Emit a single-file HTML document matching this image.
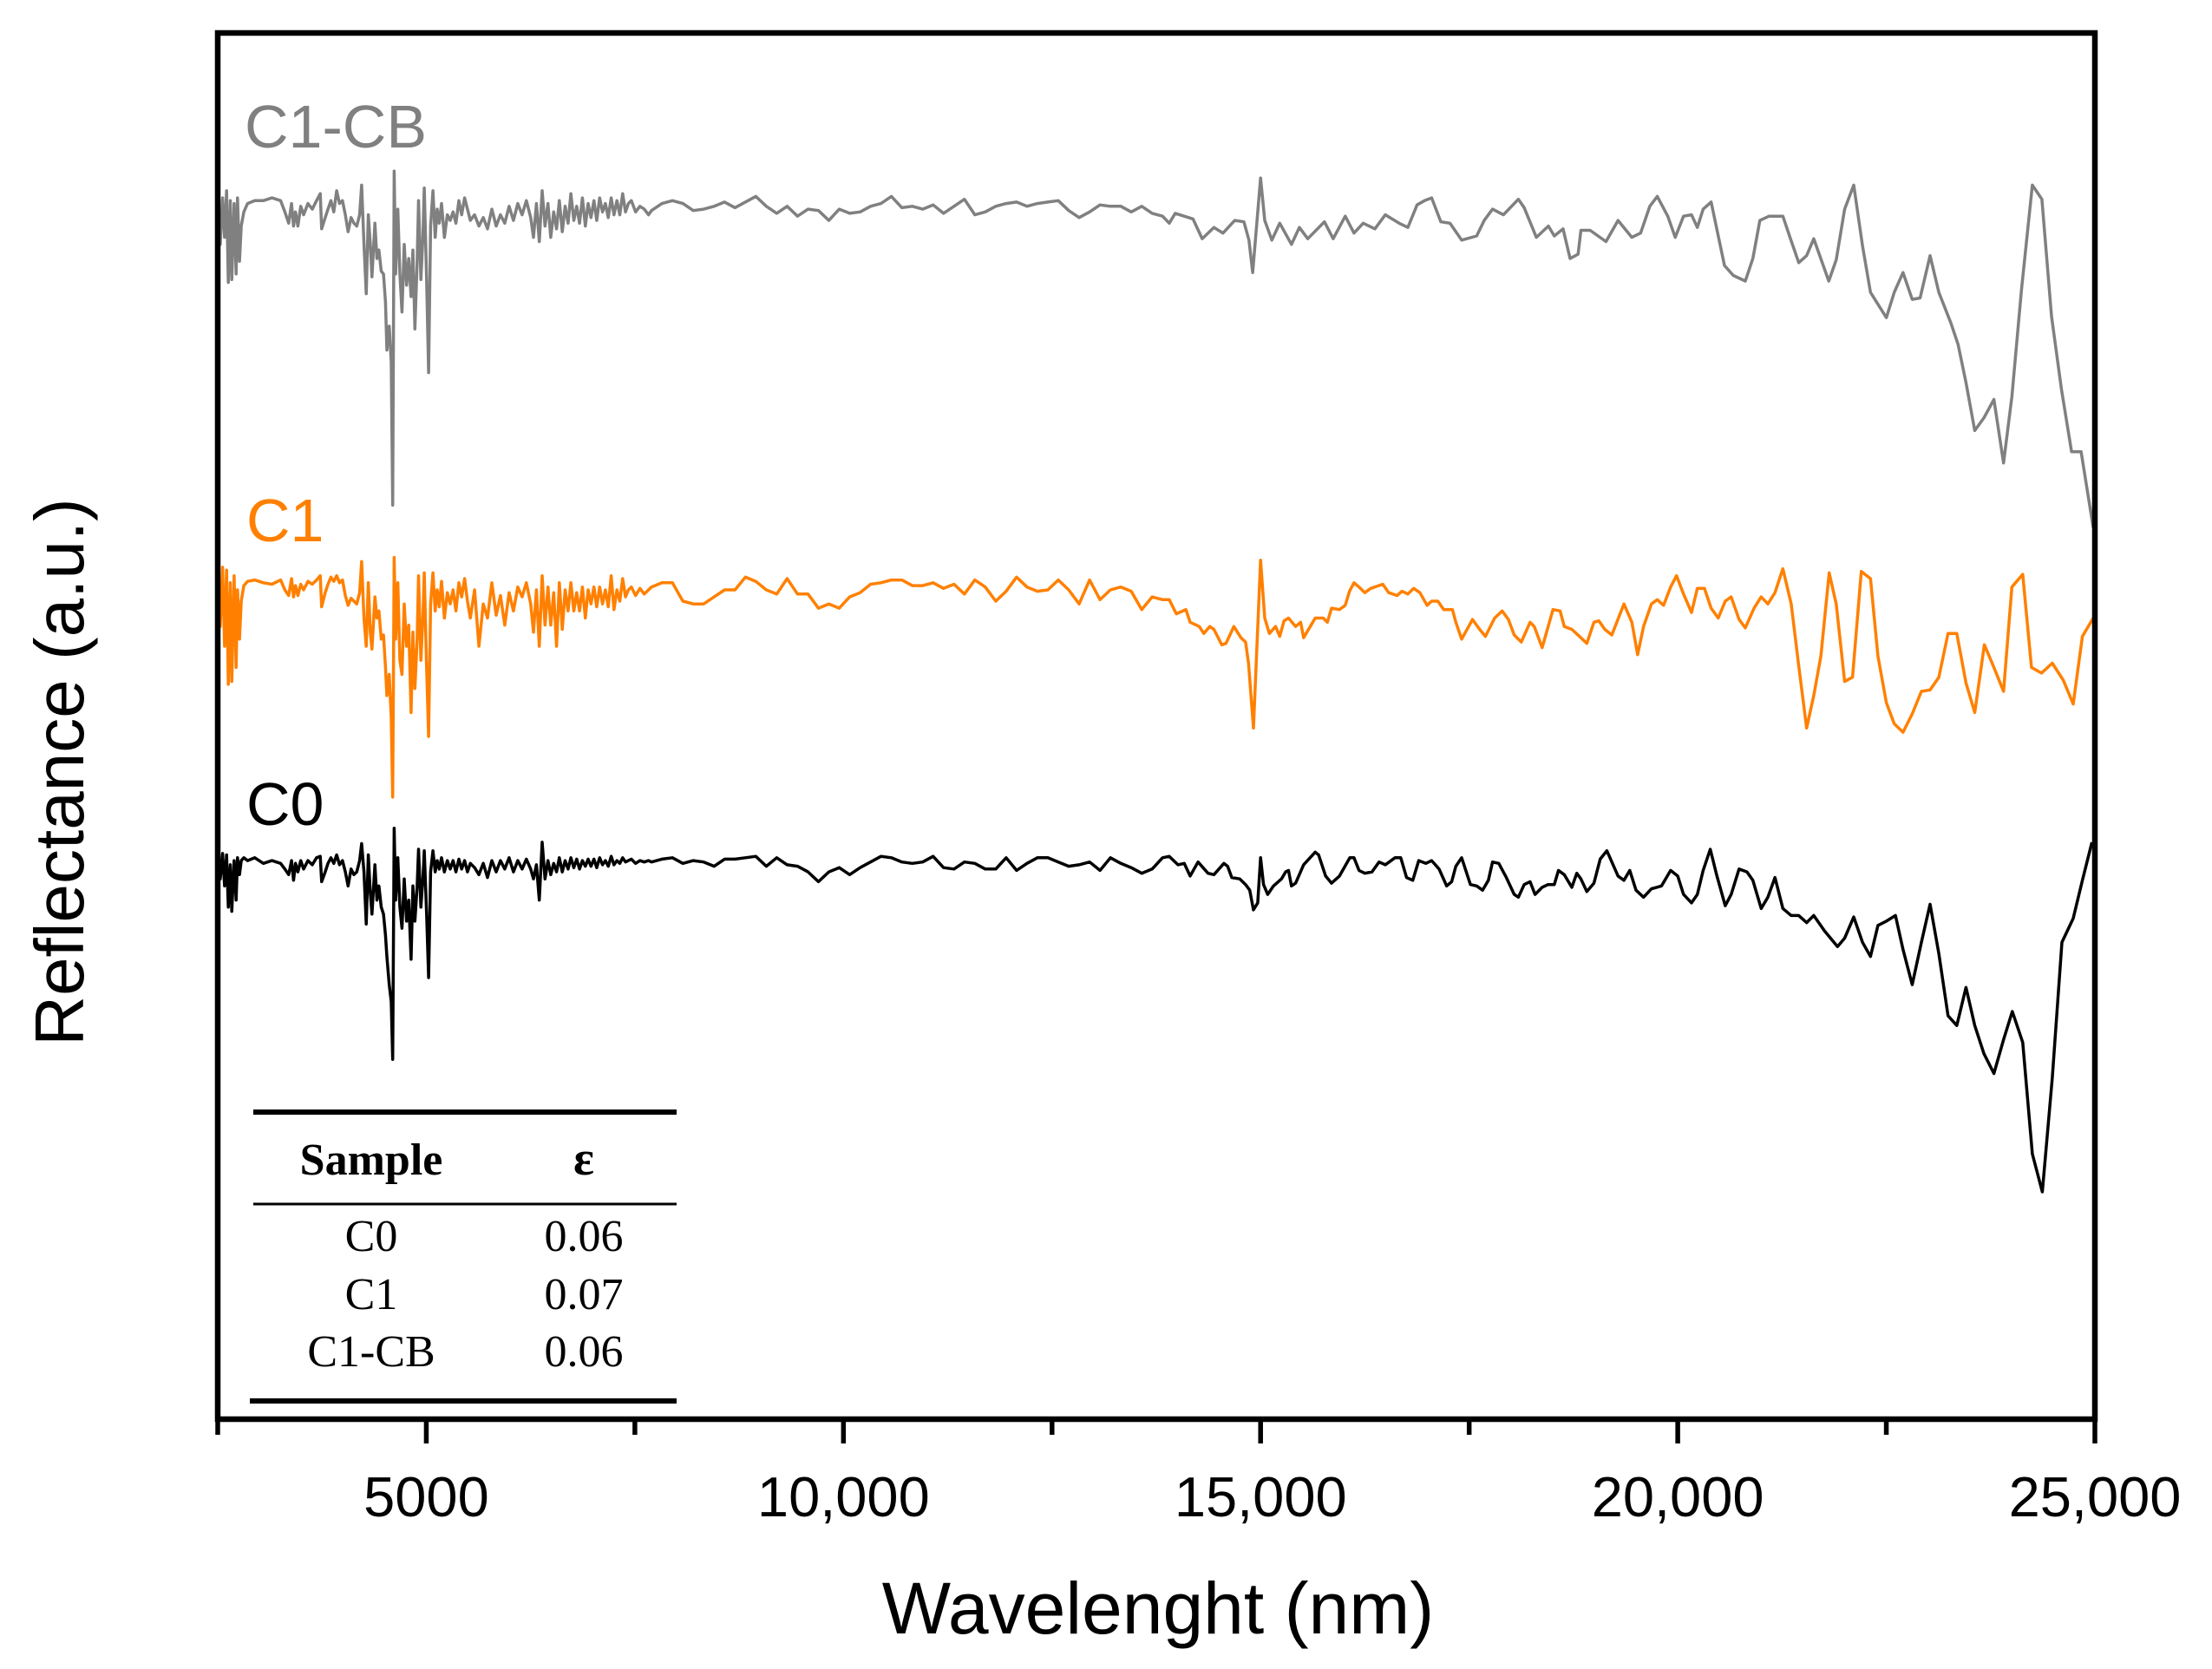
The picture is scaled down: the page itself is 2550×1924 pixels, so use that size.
<!DOCTYPE html>
<html>
<head>
<meta charset="utf-8">
<style>
  html, body { margin: 0; padding: 0; background: #ffffff; }
  svg { display: block; }
  text { font-family: "Liberation Sans", Arial, sans-serif; }
  .serif { font-family: "Liberation Serif", "DejaVu Serif", serif; }
</style>
</head>
<body>
<svg id="chart" width="2550" height="1924" viewBox="0 0 2550 1924" xmlns="http://www.w3.org/2000/svg">
  <rect x="0" y="0" width="2550" height="1924" fill="#ffffff"/>
  <g id="series-layer"></g>
  <rect x="251" y="38" width="2164" height="1598" fill="none" stroke="#000" stroke-width="6.5"/>
  <g id="ticks-layer"></g>

  <text x="282" y="170" font-size="70" fill="#808080">C1-CB</text>
  <text x="284" y="624" font-size="70" fill="#ff8000">C1</text>
  <text x="284" y="951" font-size="70" fill="#000000">C0</text>

  <text x="1335" y="1883" font-size="84" text-anchor="middle" fill="#000">Wavelenght (nm)</text>
  <text x="0" y="0" font-size="80" text-anchor="middle" fill="#000" transform="translate(96,890) rotate(-90)">Reflectance (a.u.)</text>

  <g>
    <line x1="292" y1="1282" x2="780" y2="1282" stroke="#000" stroke-width="6"/>
    <text class="serif" x="428" y="1354" font-size="52" font-weight="bold" text-anchor="middle">Sample</text>
    <text class="serif" x="673" y="1354" font-size="56" font-weight="bold" text-anchor="middle">ε</text>
    <line x1="292" y1="1388" x2="780" y2="1388" stroke="#000" stroke-width="3"/>
    <text class="serif" x="428" y="1442" font-size="52" text-anchor="middle">C0</text>
    <text class="serif" x="673" y="1442" font-size="52" text-anchor="middle">0.06</text>
    <text class="serif" x="428" y="1509" font-size="52" text-anchor="middle">C1</text>
    <text class="serif" x="673" y="1509" font-size="52" text-anchor="middle">0.07</text>
    <text class="serif" x="428" y="1575" font-size="52" text-anchor="middle">C1-CB</text>
    <text class="serif" x="673" y="1575" font-size="52" text-anchor="middle">0.06</text>
    <line x1="288" y1="1615" x2="780" y2="1615" stroke="#000" stroke-width="6"/>
  </g>
</svg>
<script>
// ---------- data (wavelength in nm, reflectance in a.u.) ----------
const wlLeft = [2513,2530,2558,2582,2606,2627,2651,2668,2696,2720,2737,2761,2782,2813,2858,2944,3047,3150,3254,3305,3350,3385,3409,3433,3461,3495,3529,3581,3633,3684,3729,3746,3788,3822,3857,3891,3926,3960,3995,4029,4063,4098,4132,4167,4201,4225,4253,4280,4305,4329,4349,4384,4408,4432,4460,4487,4511,4528,4556,4580,4597,4615,4632,4659,4683,4708,4735,4763,4790,4818,4839,4863,4890,4907,4935,4959,4976,5004,5028,5052,5080,5107,5131,5155,5183,5217,5252,5286,5321,5355,5390,5424,5459,5493,5528,5579,5631,5683,5734,5786,5838,5889,5941,5993,6044,6096,6148,6199,6251,6285,6320,6354,6389,6423,6458,6492,6527,6561,6595,6630,6664,6699,6733,6768,6802,6837,6871,6906,6940,6974,7009,7043,7078,7112,7147,7181,7216,7250,7285,7319,7354,7388,7422,7457,7508,7560,7612,7663];
const wlMid = [7700,7825,7950,8075,8200,8325,8450,8575,8700,8825,8950,9075,9200,9325,9450,9575,9700,9825,9950,10075,10200,10325,10450,10575,10700,10825,10950,11075,11200,11325,11450,11575,11700,11825,11950,12075,12200,12325,12450,12575,12700,12825,12950,13075,13200,13325,13450,13575,13700,13825];

const c1cbLeft = [86.0,83.5,86.8,84.0,87.3,80.8,86.6,81.0,86.4,81.4,86.8,82.3,84.8,85.8,86.4,86.6,86.6,86.8,86.6,85.8,85.0,86.4,84.8,85.8,84.8,86.2,85.6,86.4,86.0,86.6,87.1,84.6,85.4,86.0,86.6,85.8,87.3,86.4,86.6,85.6,84.4,85.4,85.0,84.8,85.6,87.7,83.5,80.0,85.6,83.5,81.2,85.0,82.5,83.1,81.6,81.4,79.4,76.0,77.7,75.2,65.0,88.7,81.4,86.0,81.4,78.7,83.5,80.6,82.5,79.8,83.1,77.5,82.3,86.6,81.0,84.0,87.5,81.0,74.4,84.8,87.3,84.0,86.0,85.0,86.4,84.0,85.6,85.2,85.8,85.0,86.6,85.6,86.8,86.0,85.2,85.6,84.8,85.4,84.6,86.0,84.8,85.6,85.0,86.2,85.2,86.4,85.6,86.6,85.4,84.0,86.4,83.7,87.3,84.8,86.4,84.0,85.8,84.6,86.6,84.4,86.2,85.0,87.1,85.2,86.2,85.0,86.8,84.8,86.4,85.4,86.6,85.2,86.8,85.8,86.4,85.4,86.8,85.6,86.6,85.6,87.1,85.8,86.4,86.6,85.8,86.2,86.0,85.6];
const c1Left = [59.8,56.4,60.6,55.0,60.4,52.3,59.5,52.5,60.0,53.5,59.0,55.5,58.2,59.3,59.6,59.7,59.5,59.4,59.7,59.0,58.6,59.8,58.5,59.3,58.6,59.4,59.0,59.6,59.4,59.7,60.0,57.8,58.8,59.4,59.9,59.6,60.0,59.5,59.7,58.6,57.9,58.4,58.2,58.0,58.8,61.0,57.0,55.0,59.5,56.0,54.8,58.5,57.0,57.5,55.5,55.8,53.5,51.5,53.0,50.0,44.3,61.3,55.5,59.5,54.0,53.0,58.0,55.0,56.5,50.3,56.0,52.0,55.5,60.0,54.0,57.0,60.2,53.5,48.6,58.0,60.2,57.5,59.0,57.8,59.6,57.0,58.8,58.0,59.0,57.5,59.5,58.5,59.8,58.2,57.0,59.0,55.0,58.0,57.0,59.5,57.2,58.6,56.5,58.8,57.5,59.2,58.5,59.5,58.0,56.0,59.0,55.0,60.0,56.5,59.2,56.5,58.8,55.0,59.5,56.2,59.0,57.5,59.5,57.5,58.8,57.5,59.2,57.0,59.0,58.0,59.2,57.8,59.2,58.0,59.0,57.8,60.0,57.6,59.0,58.2,59.8,58.5,59.0,59.2,58.6,59.1,58.7,59.0];
const c0Left = [40.0,38.5,40.3,38.0,40.2,36.5,39.5,36.2,39.8,37.0,40.0,38.8,39.8,40.0,39.8,40.0,39.6,39.8,39.6,39.2,38.8,39.8,38.4,39.6,39.0,39.8,39.2,39.8,39.5,40.0,40.1,38.3,39.0,39.6,40.0,39.6,40.2,39.5,39.8,39.0,38.0,39.2,38.8,39.0,39.8,41.0,39.0,35.3,40.2,37.5,36.0,39.5,37.0,38.0,36.5,36.0,34.5,33.0,31.0,29.8,25.7,42.1,37.0,40.0,36.5,35.0,38.5,35.5,37.0,32.8,38.0,35.5,38.0,40.6,36.5,38.5,40.5,36.0,31.5,39.0,40.5,39.0,39.8,39.2,40.0,39.0,39.8,39.2,39.8,39.0,39.9,39.2,39.8,39.0,39.6,39.3,38.8,39.6,38.6,39.8,39.0,39.8,39.2,40.0,39.0,39.8,39.2,39.9,39.2,38.5,39.5,37.0,41.1,38.5,39.8,38.8,39.6,39.0,40.0,39.0,39.8,39.2,40.0,39.3,39.9,39.2,39.8,39.4,39.9,39.4,39.9,39.3,40.0,39.5,39.8,39.4,40.1,39.5,39.8,39.6,40.0,39.7,39.8,39.9,39.6,39.8,39.7,39.8];

const c1cbMid = [85.9,86.4,86.6,86.4,85.9,86.0,86.2,86.5,86.1,86.5,86.9,86.2,85.7,86.2,85.5,86.0,85.9,85.2,86.0,85.7,85.8,86.2,86.4,86.9,86.1,86.2,86.0,86.3,85.7,86.2,86.7,85.6,85.8,86.2,86.4,86.5,86.2,86.4,86.5,86.6,85.9,85.4,85.8,86.3,86.2,86.2,85.8,86.2,85.7,85.5];
const c1Mid = [59.2,59.5,59.5,58.2,58.0,58.0,58.5,59.0,59.0,59.9,59.6,59.0,58.7,59.8,58.7,58.7,57.7,58.0,57.7,58.5,58.8,59.4,59.5,59.7,59.7,59.3,59.3,59.5,59.1,59.4,58.7,59.7,59.2,58.2,58.9,59.9,59.2,58.9,59.0,59.7,59.0,58.0,59.7,58.3,59.0,59.2,58.9,57.6,58.5,58.3];
const c0Mid = [39.7,39.9,40.0,39.6,39.8,39.7,39.4,39.9,39.9,40.0,40.1,39.4,40.0,39.5,39.4,39.0,38.3,39.0,39.3,38.8,39.3,39.7,40.1,40.0,39.7,39.6,39.7,40.1,39.3,39.2,39.7,39.6,39.2,39.2,40.0,39.1,39.6,40.0,40.0,39.7,39.4,39.5,39.7,39.1,40.0,39.6,39.3,38.9,39.2,40.0];

const wlRightC1cb = [13905,13977,14190,14300,14440,14550,14690,14800,14860,14905,15000,15050,15135,15230,15370,15465,15565,15765,15870,16015,16120,16230,16370,16495,16660,16765,16875,16965,17050,17160,17270,17410,17590,17680,17780,17910,18090,18160,18305,18450,18520,18625,18710,18805,18840,18950,19140,19285,19450,19555,19665,19755,19880,19970,20070,20165,20235,20305,20400,20560,20665,20810,20900,20985,21095,21260,21345,21450,21545,21630,21810,21900,22000,22110,22215,22310,22500,22595,22700,22810,22905,23025,23130,23275,23360,23455,23560,23670,23790,23905,24005,24120,24250,24365,24480,24600,24720,24835,24980];
const c1cbRight = [85.0,85.7,85.3,83.9,84.7,84.3,85.2,85.1,83.8,81.5,88.2,85.2,83.8,85.0,83.5,84.7,83.9,85.1,83.9,85.5,84.3,85.0,84.6,85.6,85.0,84.7,86.3,86.6,86.8,85.1,85.0,83.8,84.1,85.2,86.0,85.6,86.7,86.1,84.0,84.8,84.1,84.6,82.5,82.8,84.5,84.5,83.7,85.2,84.0,84.3,86.2,86.9,85.5,84.0,85.5,85.6,84.7,86.0,86.5,82.0,81.3,80.9,82.5,85.2,85.5,85.5,84.0,82.2,82.7,83.9,80.9,82.4,86.0,87.7,83.4,80.1,78.3,80.1,81.5,79.6,79.7,82.7,80.1,77.9,76.4,73.7,70.3,71.2,72.5,68.0,72.7,80.3,87.7,86.7,78.4,73.2,68.8,68.8,63.4];

const wlRightC1 = [13905,13990,14105,14155,14265,14320,14390,14440,14535,14585,14680,14765,14820,14855,14915,15000,15050,15105,15180,15230,15280,15335,15420,15480,15515,15655,15750,15800,15850,15945,16015,16065,16120,16180,16250,16320,16465,16535,16635,16695,16765,16835,16910,16995,17050,17125,17195,17300,17340,17410,17540,17625,17695,17805,17895,17970,18040,18125,18230,18280,18375,18505,18590,18640,18730,18840,18910,18995,19055,19125,19210,19355,19450,19520,19590,19685,19755,19830,19915,19985,20070,20165,20235,20320,20400,20485,20570,20640,20735,20810,20915,21000,21080,21165,21260,21360,21450,21545,21630,21715,21815,21900,22000,22095,22200,22310,22400,22500,22595,22700,22810,22920,23025,23130,23240,23345,23455,23560,23675,23790,23905,24005,24135,24240,24360,24490,24620,24740,24850,24980];
const c1Right = [58.3,57.3,57.6,56.7,56.4,55.9,56.4,56.2,55.1,55.2,56.4,55.6,55.3,53.8,49.2,61.1,57.0,55.9,56.4,55.7,56.8,57.0,56.4,56.7,55.6,57.0,57.0,56.7,57.7,57.6,57.9,58.9,59.5,59.2,58.8,59.1,59.4,58.8,58.6,58.9,58.7,59.1,58.8,57.9,58.2,58.2,57.6,57.6,56.7,55.5,56.9,56.2,55.7,57.0,57.5,56.9,55.8,55.3,56.7,56.4,54.9,57.6,57.5,56.4,56.2,55.6,55.2,56.7,56.8,56.2,55.8,58.0,56.7,54.4,56.4,58.0,58.3,57.9,59.2,60.0,58.7,57.4,59.1,59.1,57.7,57.0,58.2,58.5,56.9,56.3,57.7,58.5,58.0,58.8,60.5,58.0,53.6,49.2,51.5,54.3,60.2,58.0,52.5,52.8,60.3,59.8,54.3,51.0,49.5,48.9,50.2,51.8,51.9,52.8,55.9,55.9,52.4,50.3,55.1,53.5,51.8,59.2,60.1,53.5,53.1,53.8,52.6,50.9,55.7,57.0];

const wlRightC0 = [13905,14010,14085,14155,14250,14370,14440,14560,14605,14655,14750,14820,14870,14915,14965,15000,15035,15085,15155,15250,15300,15335,15370,15420,15515,15655,15695,15780,15850,15945,16070,16120,16180,16250,16335,16420,16495,16610,16680,16750,16825,16895,16980,17050,17140,17230,17290,17340,17410,17515,17590,17660,17730,17780,17855,17945,18040,18090,18160,18230,18290,18375,18445,18520,18570,18640,18730,18790,18840,18910,18995,19070,19150,19285,19355,19425,19500,19590,19685,19805,19915,20000,20070,20165,20235,20305,20390,20470,20570,20640,20735,20830,20900,21000,21080,21165,21260,21360,21450,21545,21630,21760,21915,22000,22110,22215,22310,22400,22500,22610,22700,22810,22920,23025,23130,23240,23345,23455,23560,23670,23790,23905,24010,24135,24250,24370,24490,24605,24740,24850,24965];
const c0Right = [40.1,39.5,39.6,38.7,39.7,38.9,38.8,39.6,39.4,38.6,38.5,38.1,37.7,36.3,36.8,40.0,38.1,37.4,38.0,38.5,39.0,39.1,38.0,38.2,39.5,40.4,40.2,38.7,38.2,38.7,40.0,40.0,39.1,38.9,39.0,39.7,39.5,40.0,40.0,38.6,38.4,39.8,39.6,39.8,39.2,38.0,38.3,39.4,40.0,38.1,38.0,37.7,38.4,39.7,39.6,38.6,37.4,37.2,38.1,38.3,37.4,37.9,38.1,38.1,39.1,38.8,37.9,38.9,38.5,37.6,38.2,39.9,40.5,38.7,38.4,39.1,37.7,37.2,37.8,38.0,39.1,38.7,37.4,36.8,37.4,39.1,40.6,38.7,36.6,37.4,39.2,39.0,38.4,36.4,37.2,38.6,36.4,35.9,35.9,35.4,35.9,34.8,33.7,34.3,35.8,34.0,33.0,35.2,35.5,35.9,33.5,31.0,34.0,36.7,33.2,28.8,28.1,30.8,28.1,26.1,24.7,27.1,29.1,26.9,19.0,16.3,24.4,34.0,35.7,38.4,41.1];

const majorTicks = [5000, 10000, 15000, 20000, 25000];
const majorTickLabels = ["5000", "10,000", "15,000", "20,000", "25,000"];
const minorTicks = [2500, 7500, 12500, 17500, 22500];

// ---------- axes ----------
const X0 = 251, X1 = 2415, WL0 = 2500, WL1 = 25000;
function xScale(nm) { return X0 + (nm - WL0) * (X1 - X0) / (WL1 - WL0); }
const YB = 1639, PX_PER_AU = 16.255;
function yScale(v) { return YB - v * PX_PER_AU; }

const NS = "http://www.w3.org/2000/svg";
const seriesLayer = document.getElementById('series-layer');
const ticksLayer = document.getElementById('ticks-layer');

function buildPath(wls, vals) {
  let d = "";
  const n = Math.min(wls.length, vals.length);
  for (let i = 0; i < n; i++) {
    d += (i === 0 ? "M" : "L") + xScale(wls[i]).toFixed(1) + "," + yScale(vals[i]).toFixed(1);
  }
  return d;
}
function drawSeries(segments, color, name) {
  const p = document.createElementNS(NS, 'path');
  let d = "";
  segments.forEach(function (s, i) {
    const part = buildPath(s[0], s[1]);
    d += (i === 0 ? part : part.replace(/^M/, "L"));
  });
  p.setAttribute('d', d);
  p.setAttribute('fill', 'none');
  p.setAttribute('stroke', color);
  p.setAttribute('stroke-width', '3.5');
  p.setAttribute('stroke-linejoin', 'round');
  
  
  seriesLayer.appendChild(p);
}

drawSeries([[wlLeft, c1cbLeft], [wlMid, c1cbMid], [wlRightC1cb, c1cbRight]], '#808080', 'series-c1-cb');
drawSeries([[wlLeft, c1Left], [wlMid, c1Mid], [wlRightC1, c1Right]], '#ff8000', 'series-c1');
drawSeries([[wlLeft, c0Left], [wlMid, c0Mid], [wlRightC0, c0Right]], '#000000', 'series-c0');

majorTicks.forEach(function (t, i) {
  const ln = document.createElementNS(NS, 'line');
  ln.setAttribute('x1', xScale(t)); ln.setAttribute('x2', xScale(t));
  ln.setAttribute('y1', 1636); ln.setAttribute('y2', 1664);
  ln.setAttribute('stroke', '#000'); ln.setAttribute('stroke-width', '5.5');
  
  
  ticksLayer.appendChild(ln);
  const tx = document.createElementNS(NS, 'text');
  tx.setAttribute('x', xScale(t));
  tx.setAttribute('y', 1748);
  tx.setAttribute('font-size', '65');
  tx.setAttribute('text-anchor', 'middle');
  tx.textContent = majorTickLabels[i];
  
  
  ticksLayer.appendChild(tx);
});
minorTicks.forEach(function (t) {
  const ln = document.createElementNS(NS, 'line');
  ln.setAttribute('x1', xScale(t)); ln.setAttribute('x2', xScale(t));
  ln.setAttribute('y1', 1636); ln.setAttribute('y2', 1654);
  ln.setAttribute('stroke', '#000'); ln.setAttribute('stroke-width', '5.5');
  
  
  ticksLayer.appendChild(ln);
});
</script>
</body>
</html>
